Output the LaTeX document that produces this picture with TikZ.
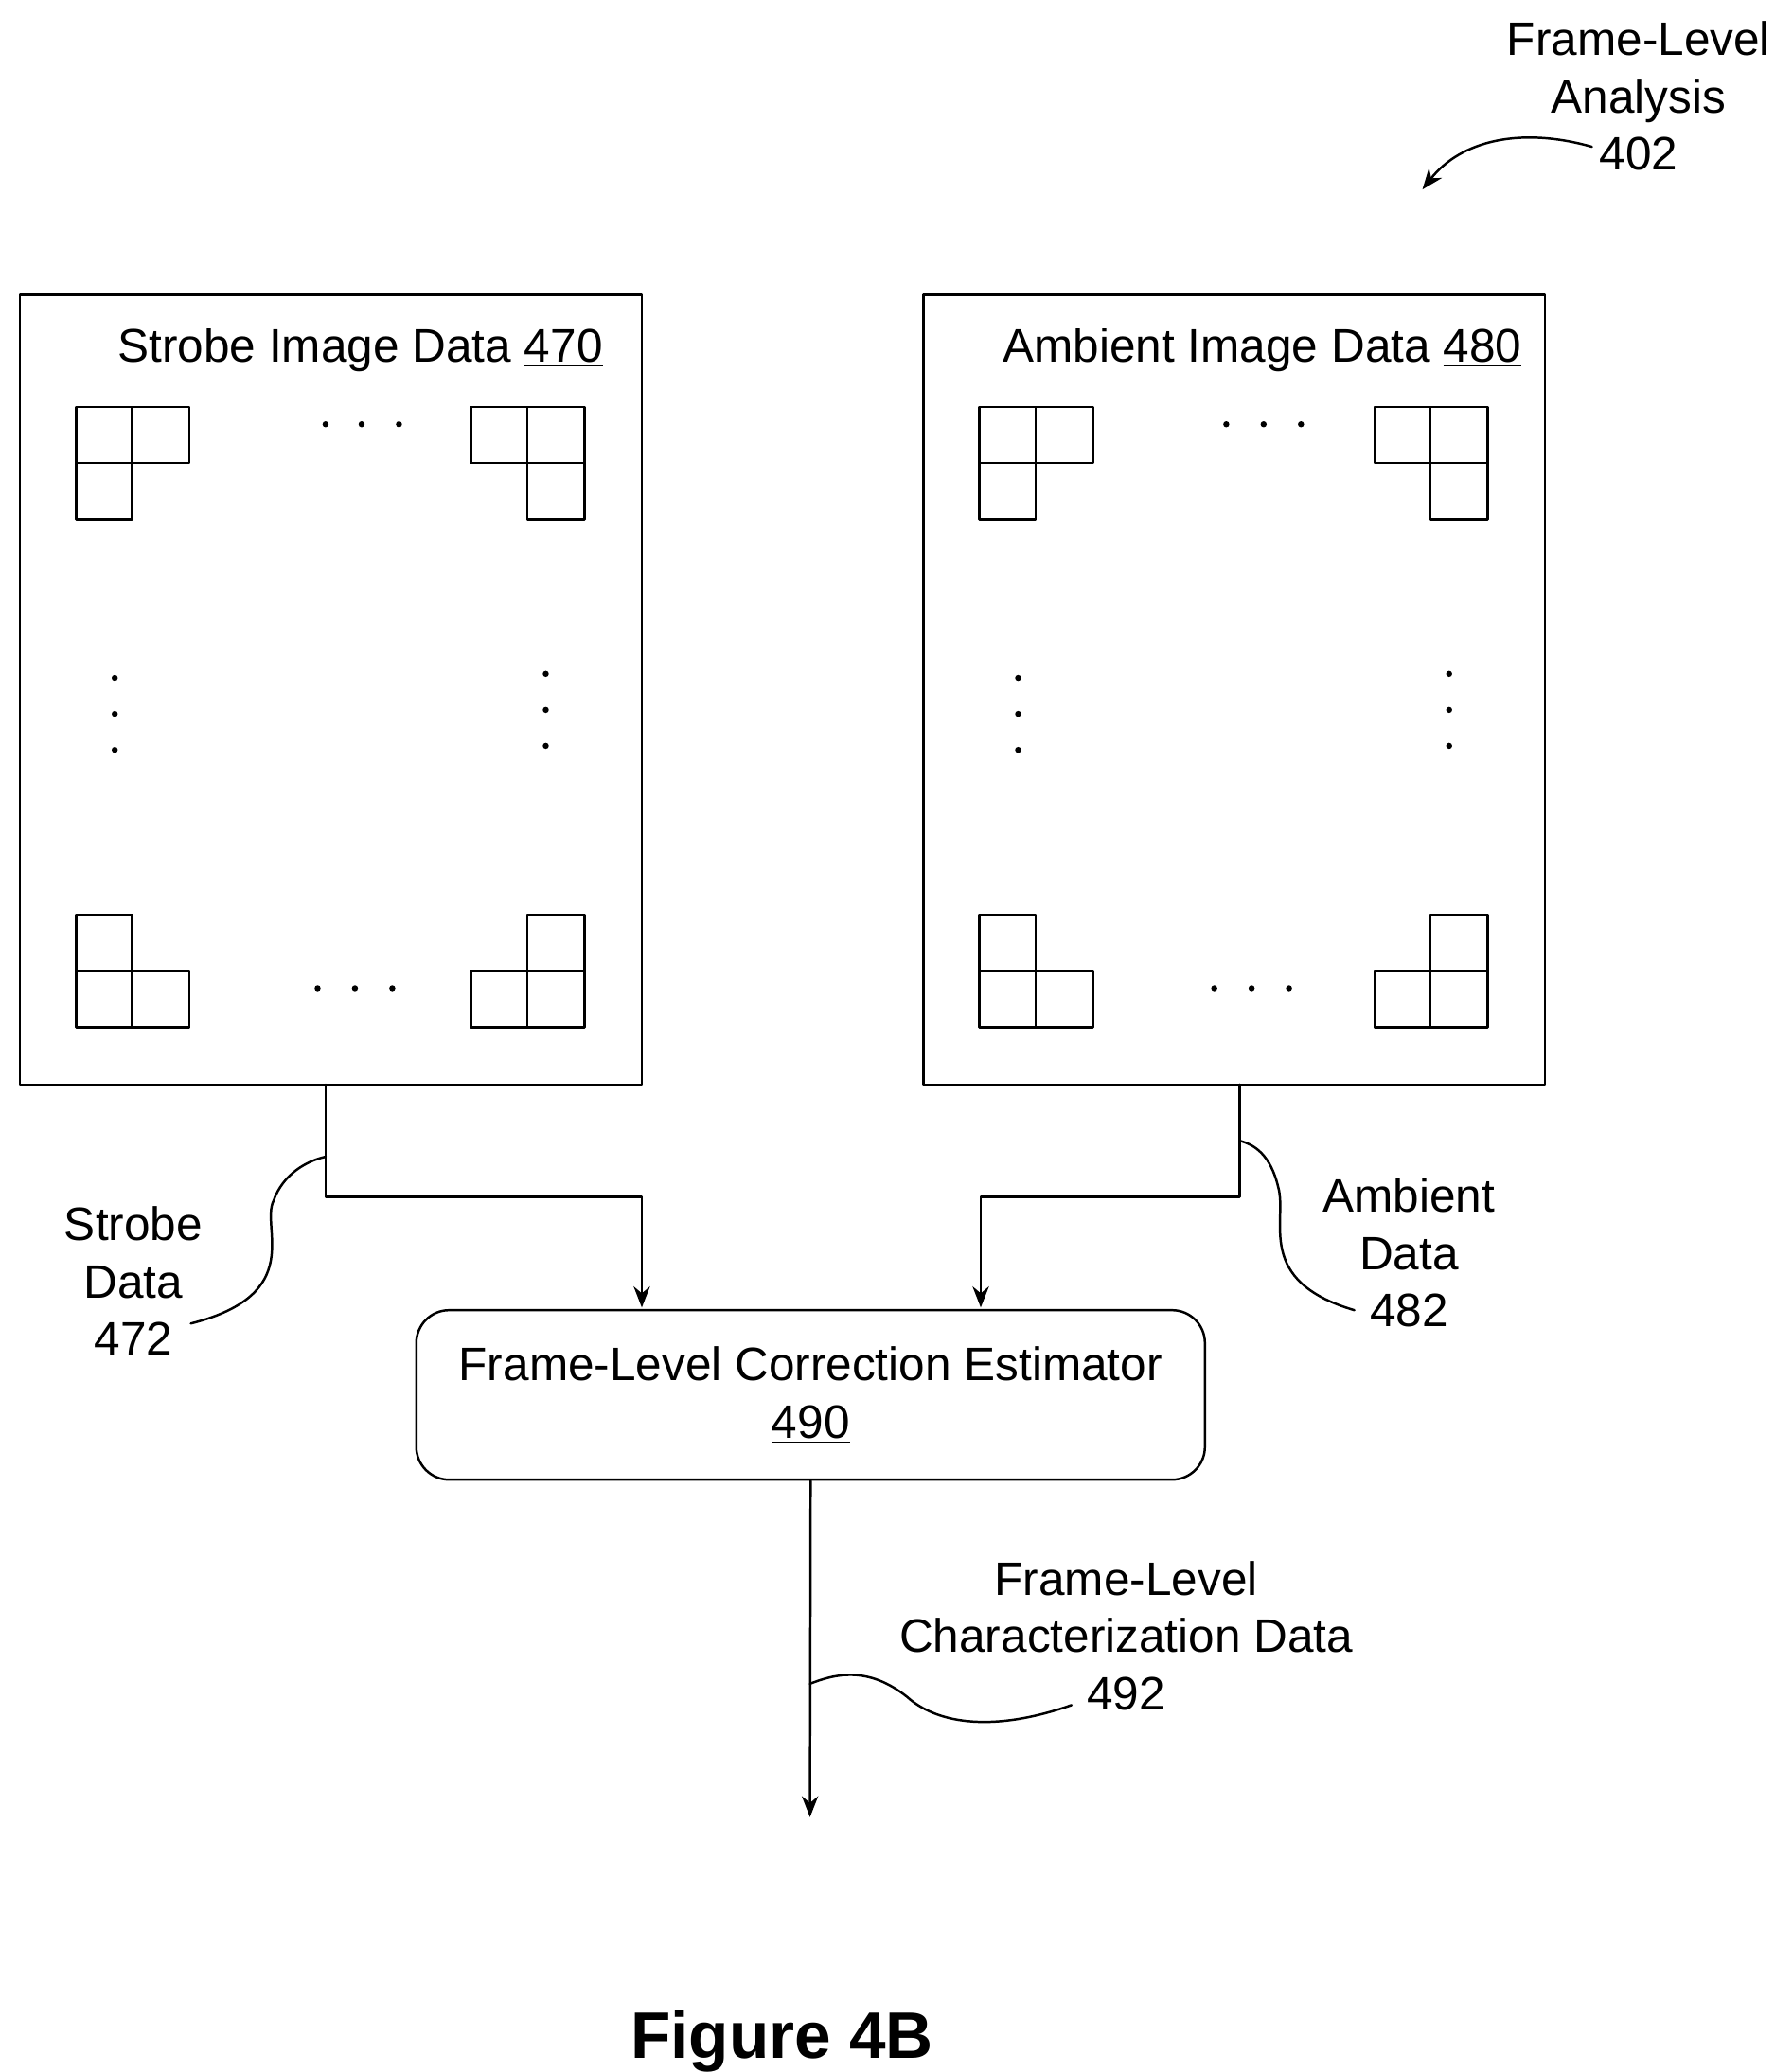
\documentclass[tikz,border=0pt]{standalone}
\usepackage{fontspec}
\setmainfont{Liberation Sans}
\usetikzlibrary{arrows.meta}
\tikzset{
  lbl/.style={align=center,font=\fontsize{20}{24.5}\selectfont,inner sep=0pt},
  box/.style={draw,line width=1pt},
  cell/.style={draw,line width=1pt},
  dot/.style={fill,circle,inner sep=0pt,minimum size=2.6pt},
  arr/.style={line width=1pt,-{Stealth[length=9pt,width=7pt]}},
  lead/.style={line width=1pt}
}
\newcommand{\pixgroup}[1]{%
\begin{scope}[shift={(#1,0)}]
\draw[cell] (57,305) rectangle (99,347); \draw[cell] (99,305) rectangle (142,347); \draw[cell] (57,347) rectangle (99,389);
\draw[cell] (353,305) rectangle (395,347); \draw[cell] (395,305) rectangle (438,347); \draw[cell] (395,347) rectangle (438,389);
\draw[cell] (57,686) rectangle (99,728); \draw[cell] (57,728) rectangle (99,770); \draw[cell] (99,728) rectangle (142,770);
\draw[cell] (395,686) rectangle (438,728); \draw[cell] (353,728) rectangle (395,770); \draw[cell] (395,728) rectangle (438,770);
\end{scope}}
\begin{document}
\begin{tikzpicture}[line cap=round,line join=round,x=0.02cm,y=-0.02cm]
\useasboundingbox (0,0) rectangle (1330,1553);
% image data boxes
\draw[box] (15,221) rectangle (481,813);
\draw[box] (692,221) rectangle (1158,813);
\node[lbl] (strobe) at (270,262) {Strobe Image Data \underline{470}};
\node[lbl] (ambient) at (946,262) {Ambient Image Data \underline{480}};
\pixgroup{0}
\pixgroup{677}
% dots
\foreach \x in {244,271,299} \node[dot] at (\x,318) {};
\foreach \x in {238,266,294} \node[dot] at (\x,741) {};
\foreach \y in {508,535,562} \node[dot] at (86,\y) {};
\foreach \y in {505,532,559} \node[dot] at (409,\y) {};
\foreach \x in {919,947,975} \node[dot] at (\x,318) {};
\foreach \x in {910,938,966} \node[dot] at (\x,741) {};
\foreach \y in {508,535,562} \node[dot] at (763,\y) {};
\foreach \y in {505,532,559} \node[dot] at (1086,\y) {};
% estimator
\node[draw,line width=1pt,rounded corners=14pt,minimum width=591*0.02cm,minimum height=127*0.02cm,
  lbl] (est) at (607.5,1045.5) {Frame-Level Correction Estimator\\\underline{490}};
\coordinate (sOut) at (244,813);
\coordinate (aOut) at (929,813);
\coordinate (res) at (607,1362);
\draw[arr] (sOut) |- (481,897) -- (481,980);
\draw[arr] (aOut) |- (735,897) -- (735,980);
\draw[arr] (est.south) -- (res);
% labels
\node[lbl] (sdata) at (100,960) {Strobe\\Data\\472};
\node[lbl] (adata) at (1056,939) {Ambient\\Data\\482};
\node[lbl] (cdata) at (844,1226) {Frame-Level\\Characterization Data\\492};
\node[lbl] (fla) at (1228,72) {Frame-Level\\Analysis\\402};
\draw[lead] (143,992) .. controls (230,970) and (195,920) .. (205,900) .. controls (212,880) and (230,870) .. (244,867);
\draw[lead] (1015,982) .. controls (940,960) and (965,915) .. (958,890) .. controls (952,865) and (940,858) .. (929,855);
\draw[lead] (803,1278) .. controls (740,1300) and (700,1290) .. (680,1272) .. controls (650,1248) and (625,1255) .. (607,1262);
\draw[arr] (1193,110) .. controls (1140,95) and (1095,105) .. (1066,142);
\node[font=\fontsize{28}{32}\selectfont\bfseries,inner sep=0pt] (fig) at (586,1530) {Figure 4B};
\end{tikzpicture}
\end{document}
